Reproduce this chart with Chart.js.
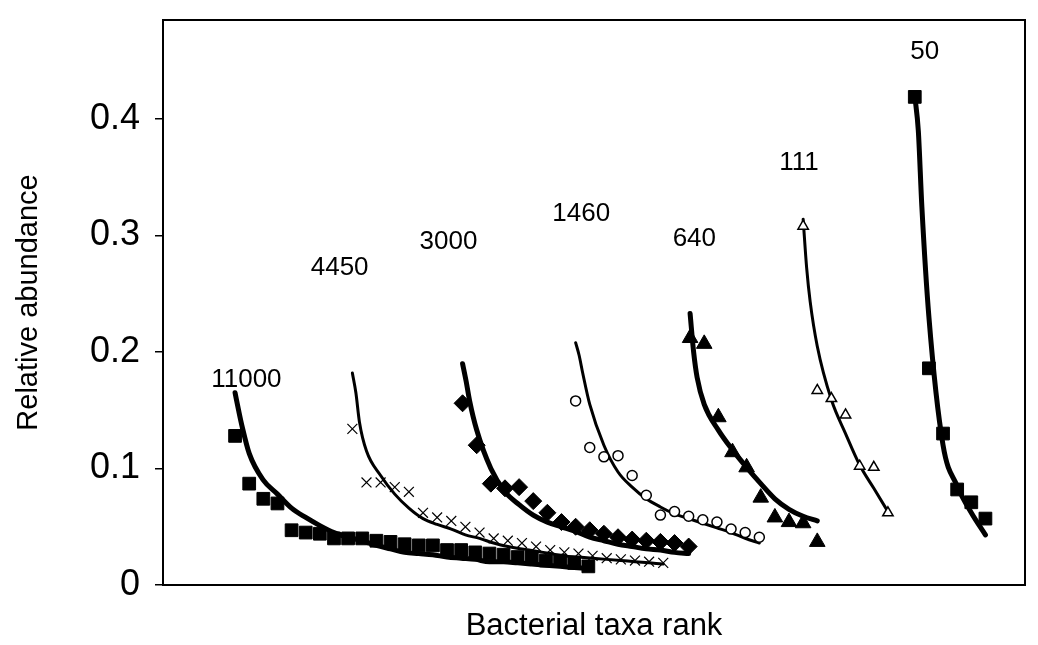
<!DOCTYPE html>
<html>
<head>
<meta charset="utf-8">
<script src="https://cdn.jsdelivr.net/npm/chart.js@4.4.0/dist/chart.umd.min.js"></script>
<style>
body { margin: 0; background: #fff; }
#wrap { width: 1038px; height: 645px; }
</style>
</head>
<body>
<div id="wrap"><canvas id="rankChart" width="1038" height="645"></canvas></div>
<script>
// communities (number of taxa) and where each rank curve starts on the x axis
const communities = ['11000', '4450', '3000', '1460', '640', '111', '50'];
const firstRank = [5.1, 13.4, 21.2, 29.2, 37.3, 45.3, 53.2];

// observed relative abundances (markers), one per rank
const obs11000 = [0.128, 0.087, 0.074, 0.070, 0.047, 0.045, 0.044, 0.040, 0.040, 0.040, 0.038, 0.037, 0.035,
                  0.034, 0.034, 0.030, 0.030, 0.028, 0.027, 0.026, 0.024, 0.024, 0.021, 0.021, 0.019, 0.016];
const obs4450 = [0.134, 0.088, 0.088, 0.084, 0.080, 0.062, 0.058, 0.055, 0.050, 0.045, 0.040, 0.038,
                 0.036, 0.033, 0.030, 0.028, 0.027, 0.025, 0.023, 0.022, 0.021, 0.020, 0.019];
const obs3000 = [0.156, 0.120, 0.087, 0.083, 0.084, 0.072, 0.062, 0.054, 0.050, 0.047, 0.044, 0.041,
                 0.039, 0.038, 0.037, 0.036, 0.033];
const obs1460 = [0.158, 0.118, 0.110, 0.111, 0.094, 0.077, 0.060, 0.063, 0.059, 0.056, 0.054, 0.048, 0.045, 0.041];
const obs640 = [0.212, 0.207, 0.144, 0.114, 0.101, 0.075, 0.058, 0.054, 0.053, 0.037];
const obs111 = [0.308, 0.167, 0.160, 0.146, 0.102, 0.101, 0.062];
const obs50 = [0.419, 0.186, 0.130, 0.082, 0.071, 0.057];

// fitted curves, read at rank 0, 0.25, 0.5 and then every whole rank
const fitSteps = [0, 0.25, 0.5];
const fit11000 = [0.165, 0.150, 0.136, 0.113, 0.090, 0.078, 0.066, 0.058, 0.051, 0.045, 0.041, 0.038, 0.034, 0.031,
                  0.028, 0.027, 0.026, 0.024, 0.023, 0.022, 0.020, 0.020, 0.019, 0.018, 0.017, 0.016, 0.015, 0.014];
const fit4450 = [0.182, 0.165, 0.140, 0.115, 0.094, 0.078, 0.066, 0.057, 0.052, 0.048, 0.043, 0.040, 0.036, 0.033,
                 0.031, 0.029, 0.027, 0.025, 0.024, 0.023, 0.022, 0.021, 0.020, 0.019, 0.018];
const fit3000 = [0.190, 0.175, 0.158, 0.133, 0.100, 0.080, 0.069, 0.060, 0.054, 0.050, 0.046, 0.041, 0.038,
                 0.035, 0.033, 0.031, 0.030, 0.028, 0.027];
const fit1460 = [0.208, 0.197, 0.182, 0.155, 0.120, 0.097, 0.084, 0.074, 0.067, 0.061, 0.057, 0.053, 0.049,
                 0.045, 0.040, 0.036];
const fit640 = [0.233, 0.200, 0.178, 0.155, 0.133, 0.116, 0.101, 0.087, 0.074, 0.065, 0.059, 0.055];
const fit111 = [0.314, 0.272, 0.243, 0.205, 0.159, 0.130, 0.103, 0.083, 0.063];
const fit50 = [0.420, 0.390, 0.325, 0.230, 0.120, 0.085, 0.062, 0.043];

// where the community labels sit (rank, abundance)
const labelRank = [5.9, 12.5, 20.2, 29.6, 37.6, 45.0, 53.9];
const labelValue = [0.176, 0.272, 0.295, 0.319, 0.297, 0.362, 0.458];

const yTicks = [0, 0.1, 0.2, 0.3, 0.4];

const observed = [obs11000, obs4450, obs3000, obs1460, obs640, obs111, obs50];
const fitted = [fit11000, fit4450, fit3000, fit1460, fit640, fit111, fit50];

// marker / line looks
const markerShape = ['rect', 'crossRot', 'rectRot', 'circle', 'triangle', 'triangle', 'rect'];
const markerSize = [9, 7, 8.5, 5, 9, 6, 9];
const markerFill = ['#000', '#000', '#000', '#fff', '#000', '#fff', '#000'];
const markerEdge = [1, 1.2, 1, 1.5, 1, 1.5, 1];
const curveWidth = [5, 3, 5, 3, 5, 3, 5];

const FONT = '"Liberation Sans", Arial, sans-serif';

function obsPoints(values, start) {
    return values.map((v, i) => ({ x: start + i, y: v }));
}

function fitPoints(values, start) {
    return values.map((v, i) => ({ x: start + (i < fitSteps.length ? fitSteps[i] : i - fitSteps.length + 1), y: v }));
}

const datasets = [];
communities.forEach((name, k) => {
    datasets.push({
        label: name + ' observed',
        data: obsPoints(observed[k], firstRank[k]),
        showLine: false,
        pointStyle: markerShape[k],
        pointRadius: markerSize[k],
        pointBackgroundColor: markerFill[k],
        pointBorderColor: '#000',
        pointBorderWidth: markerEdge[k],
        order: 0
    });
    datasets.push({
        label: name + ' fit',
        data: fitPoints(fitted[k], firstRank[k]),
        showLine: true,
        pointRadius: 0,
        borderColor: '#000',
        borderWidth: curveWidth[k],
        borderCapStyle: 'round',
        cubicInterpolationMode: 'monotone',
        order: 1
    });
});

const frame = {
    id: 'frame',
    afterDraw(chart) {
        const { ctx, chartArea: a } = chart;
        ctx.save();
        ctx.strokeStyle = '#000';
        ctx.lineWidth = 2;
        ctx.strokeRect(a.left, a.top, a.right - a.left, a.bottom - a.top);
        ctx.restore();
    }
};

const communityLabels = {
    id: 'communityLabels',
    afterDatasetsDraw(chart) {
        const { ctx, scales } = chart;
        ctx.save();
        ctx.fillStyle = '#000';
        ctx.font = '26px ' + FONT;
        ctx.textAlign = 'center';
        ctx.textBaseline = 'middle';
        communities.forEach((name, k) => {
            ctx.fillText(name, scales.x.getPixelForValue(labelRank[k]), scales.y.getPixelForValue(labelValue[k]));
        });
        ctx.restore();
    }
};

new Chart(document.getElementById('rankChart'), {
    type: 'scatter',
    data: { datasets: datasets },
    plugins: [frame, communityLabels],
    options: {
        responsive: false,
        animation: false,
        layout: { padding: { top: 20, right: 13, left: 0, bottom: 0 } },
        plugins: {
            legend: { display: false },
            tooltip: { enabled: false }
        },
        scales: {
            x: {
                type: 'linear',
                min: 0,
                max: 61,
                ticks: { display: false },
                grid: { display: false },
                border: { display: true, color: '#000', width: 2 },
                title: {
                    display: true,
                    text: 'Bacterial taxa rank',
                    color: '#000',
                    font: { family: FONT, size: 31 },
                    padding: { top: 0, bottom: 0 }
                },
                afterFit(axis) { axis.height = 60; axis.paddingLeft = 0; axis.paddingRight = 0; }
            },
            y: {
                min: 0,
                max: 0.485,
                afterBuildTicks(axis) { axis.ticks = yTicks.map(v => ({ value: v })); },
                ticks: {
                    color: '#000',
                    padding: 15,
                    font: { family: FONT, size: 36 },
                    callback: v => (v === 0 ? '0' : v.toFixed(1))
                },
                grid: { drawOnChartArea: false, drawTicks: true, tickLength: 8, color: '#000', lineWidth: 1.5 },
                border: { display: true, color: '#000', width: 2 },
                title: {
                    display: true,
                    text: 'Relative abundance',
                    color: '#000',
                    font: { family: FONT, size: 29 },
                    padding: { top: 12, bottom: 0 }
                },
                afterFit(axis) { axis.width = 163; axis.paddingTop = 0; axis.paddingBottom = 0; }
            }
        }
    }
});
</script>
</body>
</html>
